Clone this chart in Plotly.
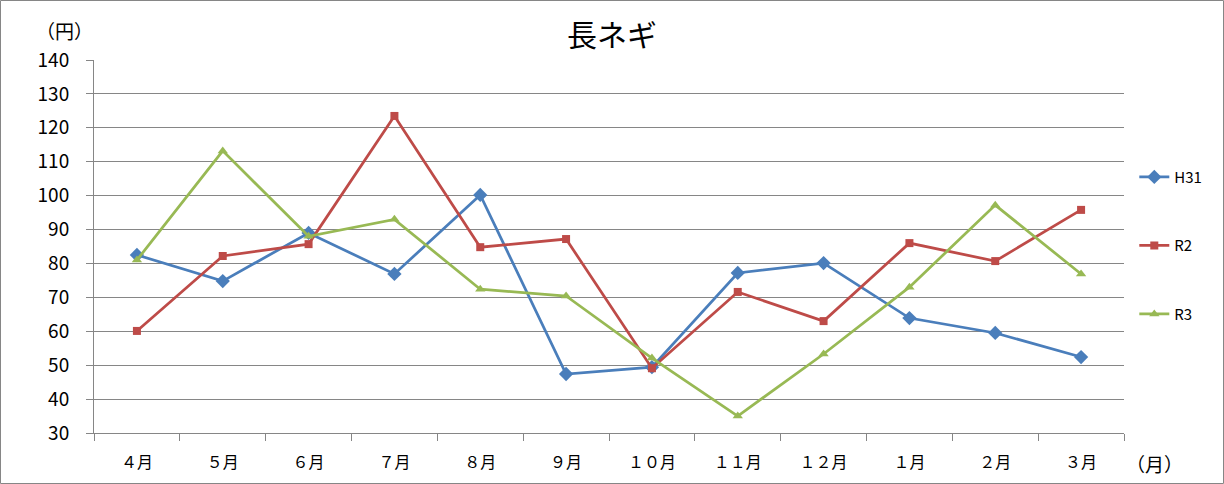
import plotly.graph_objects as go

months = ["４月", "５月", "６月", "７月", "８月", "９月", "１０月", "１１月", "１２月", "１月", "２月", "３月"]
h31 = [82.5, 74.8, 89.0, 76.9, 100.2, 47.4, 49.4, 77.2, 80.1, 63.9, 59.5, 52.4]
r2 = [60.1, 82.2, 85.7, 123.5, 84.8, 87.2, 49.1, 71.6, 63.0, 86.0, 80.7, 95.8]
r3 = [81.0, 113.2, 88.0, 93.0, 72.4, 70.4, 52.1, 35.0, 53.3, 73.0, 97.2, 76.9]

series = [
    ("H31", h31, "#4a7ebb", "diamond", 11),
    ("R2", r2, "#be4b48", "square", 8),
    ("R3", r3, "#98b954", "triangle-up", 9),
]

font = "Noto Sans CJK JP, Meiryo, sans-serif"

fig = go.Figure()
for name, vals, color, symbol, size in series:
    fig.add_trace(go.Scatter(
        x=months, y=vals, name=name, mode="lines+markers",
        line=dict(color=color, width=2.75),
        marker=dict(symbol=symbol, size=size, color=color),
        legendgroup=name,
    ))

fig.update_layout(
    width=1224, height=484,
    margin=dict(l=94, r=100, t=60, b=51),
    paper_bgcolor="white", plot_bgcolor="white",
    font=dict(family=font, size=15, color="black"),
    title=dict(text="長ネギ", x=0.5, xanchor="center", y=0.927, yanchor="middle",
               font=dict(size=30)),
    legend=dict(x=1.01, xanchor="left", y=0.73, yanchor="top",
                tracegroupgap=46, font=dict(size=15), itemwidth=30),
    showlegend=True,
)
fig.update_xaxes(
    type="category", range=[-0.5, 11.5], showgrid=False, showline=True,
    linecolor="#868686", linewidth=1,
    ticks="outside", tickson="boundaries", ticklen=7, tickcolor="#868686",
    tickfont=dict(size=16), ticklabelstandoff=15,
)
fig.update_yaxes(
    range=[30, 140], dtick=10, showgrid=True, gridcolor="#868686", gridwidth=1,
    showline=True, linecolor="#868686", linewidth=1,
    ticks="outside", ticklen=7, tickcolor="#868686", zeroline=False,
    tickfont=dict(size=19), ticklabelstandoff=13,
)
fig.add_annotation(text="（円）", xref="paper", yref="paper", x=-0.058, y=1.078,
                   xanchor="left", yanchor="middle", showarrow=False, font=dict(size=19))
fig.add_annotation(text="（月）", xref="paper", yref="paper", x=1.0, y=-0.081,
                   xanchor="left", yanchor="middle", showarrow=False, font=dict(size=19))
fig.add_shape(type="rect", xref="paper", yref="paper", x0=-93.5/1030, x1=1+99.5/1030,
              y0=-50.5/373, y1=1+59.5/373, line=dict(color="#868686", width=1))

fig.write_html("out.html", config={"displayModeBar": False},
               post_script="document.body.style.margin='0';")
